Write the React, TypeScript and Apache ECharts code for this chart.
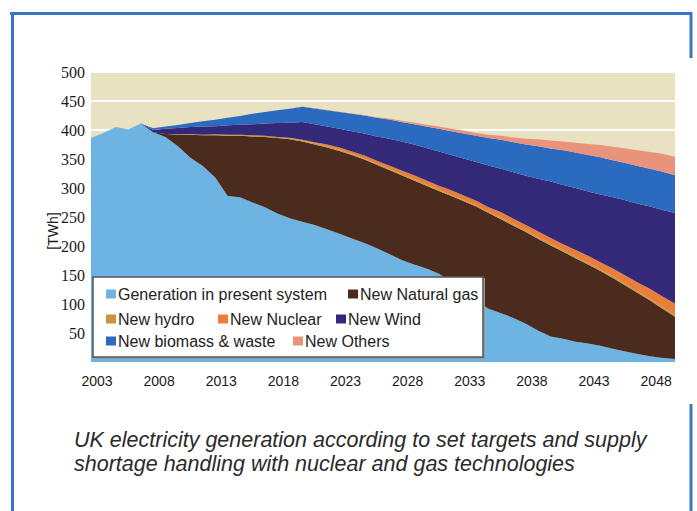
import React, { useEffect, useRef } from "react";
import * as echarts from "echarts";

const years = [
  "2003", "2004", "2005", "2006", "2007", "2008", "2009", "2010", "2011", "2012",
  "2013", "2014", "2015", "2016", "2017", "2018", "2019", "2020", "2021", "2022",
  "2023", "2024", "2025", "2026", "2027", "2028", "2029", "2030", "2031", "2032",
  "2033", "2034", "2035", "2036", "2037", "2038", "2039", "2040", "2041", "2042",
  "2043", "2044", "2045", "2046", "2047", "2048", "2049", "2050",
];

const presentSystem = [
  386, 395, 405, 401, 411, 396, 388, 372, 352, 338,
  318, 286, 284, 275, 267, 256, 248, 242, 236, 229,
  221, 213, 205, 196, 186, 176, 168, 161, 152, 138,
  122, 105, 92, 84, 76, 66, 54, 44, 40, 35,
  32, 28, 23, 18, 14, 10, 7, 5,
];
const naturalGas = [
  0, 0, 0, 0, 0, 0, 5, 20, 40, 53,
  73, 104, 106, 114, 121, 130, 136, 138, 139, 141,
  143, 144, 144, 144, 145, 146, 145, 143, 143, 148,
  155, 163, 165, 162, 159, 158, 158, 157, 150, 144,
  136, 129, 122, 114, 105, 96, 85, 73,
];
const hydro = [
  0, 0, 0, 0, 0, 0, 0, 0.5, 1, 1,
  1.5, 2, 2, 2, 2, 2, 2, 2, 2, 2,
  2, 2, 2, 2, 2, 2, 2, 2, 2, 2,
  2, 2, 2, 3, 3, 3, 3, 3, 3, 3,
  3, 3, 3, 3, 3, 3, 3, 3,
];
const nuclear = [
  0, 0, 0, 0, 0, 0, 0, 0, 0, 0,
  0, 0, 0, 0, 0, 0, 0.5, 1, 2, 3,
  4, 4, 5, 5, 6, 6, 7, 7, 7, 8,
  8, 8, 8, 9, 9, 9, 10, 10, 10, 11,
  12, 12, 13, 14, 15, 17, 18, 20,
];
const wind = [
  0, 0, 0, 0, 0, 4, 9, 11, 12, 14,
  14, 16, 17, 19, 21, 24, 26, 31, 31, 31,
  32, 35, 38, 42, 46, 50, 53, 56, 59, 61,
  64, 67, 72, 75, 80, 85, 91, 97, 102, 107,
  111, 117, 123, 130, 136, 142, 149, 156,
];
const biomass = [
  0, 0, 0, 0, 0, 3, 4, 5, 7, 9,
  11, 13, 15, 18, 20, 22, 24, 26, 27, 28,
  29, 30, 31, 32, 33, 34, 35, 37, 39, 41,
  43, 45, 47, 50, 52, 54, 56, 57, 60, 61,
  63, 64, 64, 64, 65, 65, 66, 65,
];
const others = [
  0, 0, 0, 0, 0, 0, 0, 0, 0, 0,
  0, 0, 0, 0, 0, 0, 0, 0.5, 0.5, 0.5,
  0.5, 0.5, 1, 1, 2, 2, 3, 3, 4, 4,
  5, 5, 6, 7, 8, 10, 12, 14, 15, 17,
  19, 21, 23, 25, 27, 29, 31, 32,
];

const seriesNames = [
  "Generation in present system",
  "New Natural gas",
  "New hydro",
  "New Nuclear",
  "New Wind",
  "New biomass & waste",
  "New Others",
];
const seriesColors = ["#6db4e3", "#4a2b1e", "#c8943f", "#e97e3b", "#342979", "#2b6bbf", "#ea937c"];
const seriesData = [presentSystem, naturalGas, hydro, nuclear, wind, biomass, others];

const yTicks = [0, 50, 100, 150, 200, 250, 300, 350, 400, 450, 500];

const captionLines = [
  "UK electricity generation according to set targets and supply",
  "shortage handling with nuclear and gas technologies",
];

const legendPlacement = [
  { left: 106, top: 285 },
  { left: 348, top: 285 },
  { left: 106, top: 310 },
  { left: 218, top: 310 },
  { left: 336, top: 310 },
  { left: 106, top: 332 },
  { left: 293, top: 332 },
];

export default function App() {
  const ref = useRef<HTMLDivElement>(null);
  useEffect(() => {
    if (!ref.current) return;
    const chart = echarts.init(ref.current, undefined, { renderer: "svg" });
    const frameColor = "#3a74c5";
    const option: any = {
      animation: false,
      backgroundColor: "#ffffff",
      grid: {
        left: 91,
        top: 72,
        width: 584,
        height: 290,
        show: true,
        backgroundColor: "#e8e1c2",
        borderWidth: 0,
        containLabel: false,
        outerBoundsMode: "none",
      },
      xAxis: {
        type: "category",
        boundaryGap: false,
        data: years,
        axisLine: { show: false },
        axisTick: { show: false },
        splitLine: { show: false },
        axisLabel: {
          interval: (i: number) => i % 5 === 0,
          margin: 12,
          formatter: (v: string) => "{a|" + v + "}",
          rich: {
            a: {
              fontFamily: "Liberation Sans",
              fontSize: 14,
              color: "#1a1a1a",
              padding: [0, 0, 0, 12],
            },
          },
        },
      },
      yAxis: {
        type: "value",
        min: yTicks[0],
        max: yTicks[yTicks.length - 1],
        interval: 50,
        axisLine: { show: false },
        axisTick: { show: false },
        splitLine: { show: true, lineStyle: { color: "#ffffff", width: 2 } },
        axisLabel: {
          margin: 6,
          fontFamily: "Liberation Serif",
          fontSize: 16,
          color: "#1a1a1a",
          formatter: (v: number) => (v === 0 ? "" : String(v)),
        },
      },
      legend: seriesNames.map((n, i) => ({
        data: [n],
        left: legendPlacement[i].left,
        top: legendPlacement[i].top,
        orient: "horizontal",
        padding: 0,
        itemGap: 0,
        icon: "rect",
        itemWidth: 10,
        itemHeight: 9,
        selectedMode: false,
        z: 10,
        textStyle: {
          fontFamily: "Liberation Sans",
          fontSize: 16,
          lineHeight: 18,
          color: "#222222",
          padding: [0, 0, 0, -3],
        },
      })),
      series: seriesNames.map((n, i) => ({
        name: n,
        type: "line",
        stack: "total",
        data: seriesData[i],
        symbol: "none",
        lineStyle: { width: 0 },
        itemStyle: { color: seriesColors[i] },
        areaStyle: { color: seriesColors[i], opacity: 1 },
        z: 2,
      })),
      graphic: [
        { type: "line", shape: { x1: 10, y1: 13.5, x2: 692, y2: 13.5 }, style: { stroke: frameColor, lineWidth: 3 }, z: 20 },
        { type: "line", shape: { x1: 12.5, y1: 12, x2: 12.5, y2: 511 }, style: { stroke: frameColor, lineWidth: 3 }, z: 20 },
        { type: "line", shape: { x1: 691, y1: 12, x2: 691, y2: 58 }, style: { stroke: frameColor, lineWidth: 3 }, z: 20 },
        { type: "line", shape: { x1: 691, y1: 404, x2: 691, y2: 511 }, style: { stroke: frameColor, lineWidth: 3 }, z: 20 },
        {
          type: "rect",
          shape: { x: 94, y: 278, width: 391, height: 81 },
          style: { fill: "#9a9a9a" },
          z: 3,
        },
        {
          type: "rect",
          shape: { x: 93, y: 277, width: 390, height: 80 },
          style: { fill: "#ffffff", stroke: "#555555", lineWidth: 1.5 },
          z: 3,
        },
        {
          type: "text",
          x: 53,
          y: 231,
          rotation: Math.PI / 2,
          style: {
            text: "[TWh]",
            fontFamily: "Liberation Sans",
            fontSize: 14,
            fill: "#1a1a1a",
            align: "center",
            verticalAlign: "middle",
          },
          z: 20,
        },
        ...captionLines.map((t, i) => ({
          type: "text",
          x: 74,
          y: 440 + i * 24,
          style: {
            text: t,
            fontFamily: "Liberation Sans",
            fontStyle: "italic",
            fontSize: 21.5,
            fill: "#2a2a2a",
            align: "left",
            verticalAlign: "middle",
          },
          z: 20,
        })),
      ],
    };
    chart.setOption(option);
    return () => chart.dispose();
  }, []);
  return (
    <div style={{ position: "fixed", left: 0, top: 0, width: 697, height: 511, background: "#fff" }}>
      <div ref={ref} style={{ width: 697, height: 511 }} />
    </div>
  );
}
